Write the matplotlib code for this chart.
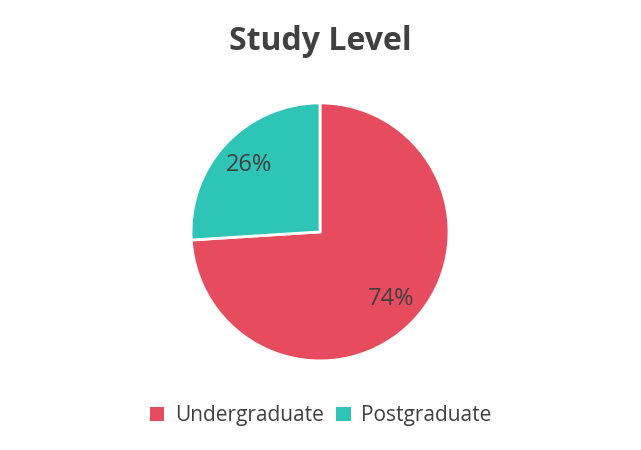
import matplotlib
matplotlib.use('Agg')
import matplotlib.pyplot as plt
from matplotlib.patches import Patch

# data
labels = ['Undergraduate', 'Postgraduate']
shares = [74, 26]
colors = ['#E64C5E', '#2EC4B6']

plt.rcParams['font.family'] = ['Open Sans', 'DejaVu Sans']
text_color = '#404040'

fig = plt.figure(figsize=(6.41, 4.5), dpi=100)
ax = fig.add_axes([0.298, 0.198, 0.4025, 0.5733])

wedges, texts, autotexts = ax.pie(
    shares, colors=colors, startangle=90, counterclock=False,
    autopct='%d%%', pctdistance=0.76,
    wedgeprops={'edgecolor': 'white', 'linewidth': 2},
    textprops={'fontsize': 17, 'color': text_color})
ax.set_xlim(-1, 1)
ax.set_ylim(-1, 1)
ax.set_aspect('equal')

fig.text(0.5, 0.907, 'Study Level', ha='center', va='center',
         fontsize=23, fontweight='bold', color=text_color)

handles = [Patch(facecolor=c, edgecolor='none') for c in colors]
fig.legend(handles, labels, loc='center', bbox_to_anchor=(0.5, 0.076),
           ncol=2, frameon=False, fontsize=15, labelcolor=text_color,
           handlelength=0.7, handleheight=0.7, handletextpad=0.5,
           columnspacing=0.6)

plt.savefig('out.png', dpi=100)
